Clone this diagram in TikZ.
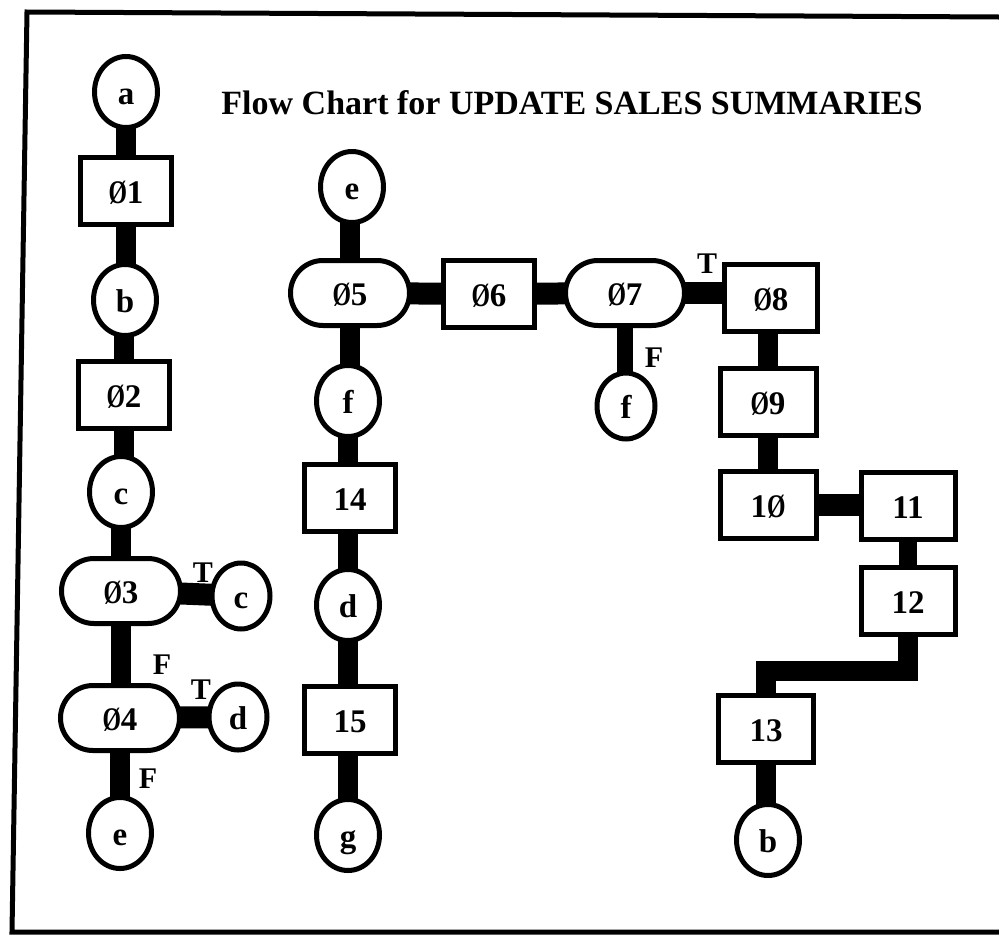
\documentclass[tikz,border=0pt]{standalone}
\usepackage{fontspec}
\setmainfont{Liberation Serif}
\usetikzlibrary{shapes.misc,shapes.geometric,backgrounds}
\newcommand{\zsl}{\scalebox{0.72}[1]{Ø}}
\begin{document}
\begin{tikzpicture}[x=1pt,y=-1pt,
  every node/.style={font=\bfseries\fontsize{33}{35}\selectfont},
  shp/.style={draw,line width=5pt,fill=white,inner sep=0pt,text height=25pt,text depth=0pt},
  conn/.style={shp,ellipse,minimum width=63pt,minimum height=71pt},
  sconn/.style={conn,minimum width=58pt,minimum height=66pt},
  proc/.style={shp,rectangle,minimum width=91pt,minimum height=67pt},
  dec/.style={shp,rounded rectangle,minimum width=119pt,minimum height=65pt},
  bar/.style={line width=20pt},
  hbar/.style={line width=22pt},
  lbl/.style={font=\bfseries\fontsize{30}{32}\selectfont,inner sep=0pt}]
\useasboundingbox (0,0) rectangle (999,943);
% frame
\draw[line width=5pt] (999,17) -- (27,12) -- (12,932) -- (999,932);
% title
\node[font=\bfseries\fontsize{34}{36}\selectfont] (title) at (572,103) {Flow Chart for UPDATE SALES SUMMARIES};
% left column
\node[conn] (a) at (126,92) {a};
\node[proc] (o1) at (126,191) {\zsl1};
\node[conn] (b1) at (125,300) {b};
\node[proc] (o2) at (124,395) {\zsl2};
\node[conn] (c1) at (121,492) {c};
\node[dec] (o3) at (121,591) {\zsl3};
\node[sconn] (c2) at (241,596) {c};
\node[dec] (o4) at (120,718) {\zsl4};
\node[sconn] (d2) at (238,717) {d};
\node[conn] (e1) at (120,833) {e};
% middle column
\node[conn] (e2) at (352,187) {e};
\node[dec] (o5) at (350,293) {\zsl5};
\node[conn] (f1) at (348,401) {f};
\node[proc] (o14) at (350,498) {14};
\node[conn] (d1) at (348,605) {d};
\node[proc] (o15) at (350,720) {15};
\node[conn] (g) at (348,835) {g};
% top row
\node[proc] (o6) at (489,294) {\zsl6};
\node[dec] (o7) at (625,293) {\zsl7};
\node[sconn] (f2) at (626,406) {f};
\node[proc,minimum width=93pt] (o8) at (771,298) {\zsl8};
\node[proc,minimum width=96pt] (o9) at (768,402) {\zsl9};
\node[proc,minimum width=96pt] (o10) at (768,505) {1\zsl};
\node[proc,minimum width=94pt] (o11) at (908,506) {11};
\node[proc,minimum width=94pt] (o12) at (908,601) {12};
\node[proc,minimum width=95pt] (o13) at (766,729) {13};
\node[conn] (b2) at (768,840) {b};
\coordinate (k) at (908,671);
% T / F labels
\node[lbl] (t3) at (203,573) {T};
\node[lbl] (f3) at (162,665) {F};
\node[lbl] (t4) at (201,690) {T};
\node[lbl] (f4) at (148,779) {F};
\node[lbl] (t7) at (707,264) {T};
\node[lbl] (f7) at (654,358) {F};
% connectors
\begin{pgfonlayer}{background}
\draw[bar] (a.center) -- (a.center |- o1.center);
\draw[bar] (o1.center) -- (o1.center |- b1.center);
\draw[bar] (o2.center) -- (o2.center |- b1.center);
\draw[bar] (o2.center) -- (o2.center |- c1.center);
\draw[bar] (c1.center) -- (c1.center |- o3.center);
\draw[hbar] (o3.center) -- (c2.center);
\draw[bar] (o3.center) -- (o3.center |- o4.center);
\draw[hbar] (o4.center) -- (d2.center);
\draw[bar] (o4.center) -- (o4.center |- e1.center);
\draw[bar] (o5.center) -- (o5.center |- e2.center);
\draw[bar] (o5.center) -- (o5.center |- f1.center);
\draw[bar] (f1.center) -- (f1.center |- o14.center);
\draw[bar] (d1.center) -- (d1.center |- o14.center);
\draw[bar] (d1.center) -- (d1.center |- o15.center);
\draw[bar] (g.center) -- (g.center |- o15.center);
\draw[hbar] (o5.center) -- (o6.center);
\draw[hbar] (o6.center) -- (o7.center);
\draw[hbar] (o7.center) -- (o7.center -| o8.center);
\draw[line width=16pt] (o7.center) -- (o7.center |- f2.center);
\draw[bar] (o9.center) -- (o9.center |- o8.center);
\draw[bar] (o9.center) -- (o9.center |- o10.center);
\draw[hbar] (o10.center) -- (o10.center -| o11.center);
\draw[line width=18pt] (o11.center) -- (o12.center);
\draw[bar] (o12.center) -- (k) -| (o13.center);
\draw[bar] (o13.center) -- (o13.center |- b2.center);
\end{pgfonlayer}
\end{tikzpicture}
\end{document}
